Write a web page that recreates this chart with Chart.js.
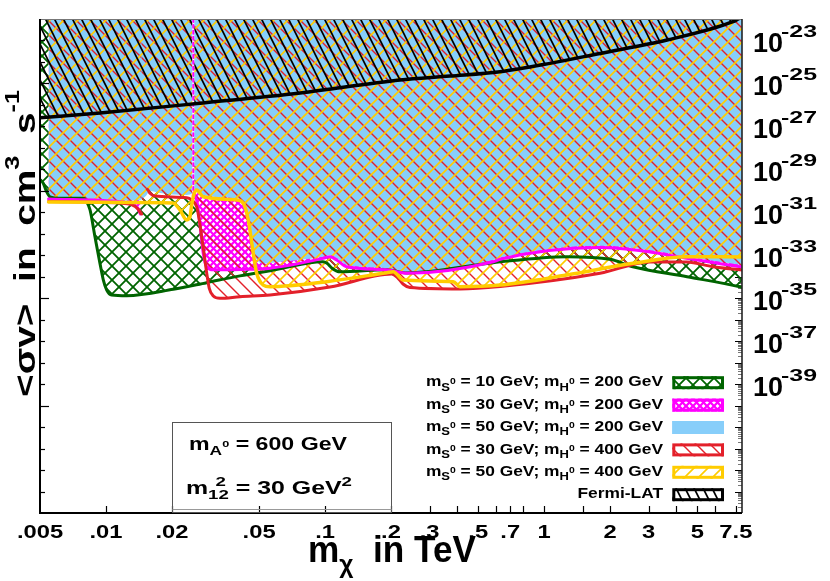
<!DOCTYPE html>
<html><head><meta charset="utf-8">
<script src="https://cdn.jsdelivr.net/npm/chart.js@4.4.0/dist/chart.umd.min.js"></script>
<style>html,body{margin:0;padding:0;background:#fff;}canvas{display:block;}</style>
</head><body>
<canvas id="c" width="830" height="581"></canvas>
<script>
// ---------------- data ----------------
const X_MIN = 0.005, X_MAX = 8, Y_MIN = 1e-45, Y_MAX = 1e-22;

const fermiX = [0.005, 0.0094, 0.0269, 0.077, 0.22, 0.372, 0.629, 1.063, 1.8, 3.64, 7.28, 7.7];
const fermiY = [2.5e-27, 4.2e-27, 1.2e-26, 3.6e-26, 1.45e-25, 2.2e-25, 3.5e-25, 8.6e-25, 2.5e-24, 1.05e-23, 7.5e-23, 1e-22];

const greenX = [0.00503, 0.00518, 0.00536, 0.00555, 0.00617, 0.00788, 0.00817, 0.00846, 0.00891, 0.00939, 0.00973, 0.01008, 0.01062, 0.01244, 0.0203, 0.0288, 0.0409, 0.0561, 0.0979, 0.1021, 0.1076, 0.117, 0.1917, 0.2366, 0.584, 1.27, 2.0, 2.54, 4.49, 7.83, 8.0];
const greenY = [3.2e-30, 2.2e-30, 9.1e-31, 5.3e-31, 4.5e-31, 4.5e-31, 3.1e-31, 1.3e-31, 7.3e-33, 4.2e-34, 7.0e-35, 2.4e-35, 1.4e-35, 1.3e-35, 2.6e-35, 5.3e-35, 1.1e-34, 1.9e-34, 5.0e-34, 4.2e-34, 2.5e-34, 1.7e-34, 2.1e-34, 1.5e-34, 4.5e-34, 8.6e-34, 6.5e-34, 2.9e-34, 1.0e-34, 3.4e-35, 3.2e-35];

const magentaX = [0.00547, 0.0116, 0.01288, 0.01381, 0.01437, null, 0.02504, 0.02595, 0.02687, 0.02781, 0.02884, 0.0309, 0.0409, 0.0561, 0.0982, 0.1053, 0.113, 0.1256, 0.1911, 0.2359, 0.586, 0.629, 1.8, 2.94, 4.47, 8.0];
const magentaY = [4.2e-31, 3.1e-31, 2.6e-31, 1.8e-31, 8.3e-32, null, 6.4e-31, 3.7e-31, 2.6e-32, 1.2e-33, 2.9e-34, 2.1e-34, 2.2e-34, 2.5e-34, 7.2e-34, 8.6e-34, 6.0e-34, 2.9e-34, 2.1e-34, 1.45e-34, 5.0e-34, 6.5e-34, 2.3e-33, 1.5e-33, 7.2e-34, 2.8e-34];
const magentaEdgeX = [0.02504, 0.02504];
const magentaEdgeY = [1e-22, 6.4e-31];

const blueX = [0.00547, 0.0116, 0.0143, 0.0152, 0.0159, 0.0176, 0.0234, 0.025, 0.026, 0.0277, 0.0396, 0.0422, 0.0445, 0.0469, 0.0489, 0.0532, 0.0561, 0.0979, 0.1053, 0.1134, 0.126, 0.1917, 0.2366, 0.584, 0.629, 1.8, 2.95, 4.49, 8.0];
const blueY = [3.7e-31, 3.5e-31, 3.7e-31, 5.7e-31, 9.8e-31, 7.9e-31, 6.4e-31, 7.9e-31, 1.15e-30, 6.4e-31, 4.4e-31, 3.0e-31, 4.9e-32, 1.8e-33, 6.0e-34, 4.1e-34, 4.4e-34, 8.6e-34, 1.03e-33, 7.2e-34, 3.5e-34, 2.5e-34, 1.7e-34, 6.0e-34, 7.7e-34, 2.8e-33, 1.8e-33, 8.6e-34, 3.5e-34];

const redX = [0.00547, 0.0116, 0.01315, 0.014, 0.01456, null, 0.01544, 0.01588, 0.01674, 0.02336, 0.02462, 0.02595, 0.02667, 0.02735, 0.02803, 0.02884, 0.02962, 0.0309, 0.03315, 0.0409, 0.0561, 0.1053, 0.2014, 0.213, 0.2269, 0.2442, 0.413, 0.629, 1.8, 3.04, 4.47, 5.9, 8.0];
const redY = [3.2e-31, 2.7e-31, 2.2e-31, 1.43e-31, 8.3e-32, null, 1.18e-30, 7.7e-31, 5.7e-31, 4.8e-31, 3.7e-31, 1.82e-31, 4.4e-32, 7.3e-33, 1.23e-33, 1.45e-34, 2.9e-35, 1.27e-35, 9.9e-36, 1.18e-35, 1.41e-35, 3.3e-35, 1.34e-34, 9.7e-35, 4.6e-35, 3.15e-35, 2.7e-35, 3.5e-35, 1.45e-34, 4.85e-34, 4.85e-34, 2.93e-34, 2.06e-34];

const yellowX = [0.00547, 0.02023, 0.02178, 0.02336, 0.02418, 0.02462, 0.02522, 0.02595, 0.02781, 0.03951, 0.04234, 0.04462, 0.04703, 0.04875, 0.05224, 0.0561, 0.1017, 0.1911, 0.2048, 0.2276, 0.3848, 0.413, 0.629, 1.267, 2.552, 4.473, 8.0];
const yellowY = [3.0e-31, 2.7e-31, 1.28e-31, 4.4e-32, 6.2e-32, 2.19e-31, 7.1e-31, 1.09e-30, 5.3e-31, 3.74e-31, 2.62e-31, 4.4e-32, 1.23e-33, 1.45e-34, 4.1e-35, 3.44e-35, 5.9e-35, 1.54e-34, 1.71e-34, 7.0e-35, 5.9e-35, 3.44e-35, 4.1e-35, 1.2e-34, 4.2e-34, 8.6e-34, 8.3e-34];

const xTickLabels = ['.005', '.01', '.02', '.05', '.1', '.2', '.3', '.5', '.7', '1', '2', '3', '5', '7.5'];
const xMinorTicks = [0.4, 0.6, 0.8, 1.5, 4, 6];
const yLabelExponents = [-23, -25, -27, -29, -31, -33, -35, -37, -39];

const legendMS = [10, 30, 50, 30, 50];
const legendMH = [200, 200, 200, 400, 400];
const legendFermi = 'Fermi-LAT';
const massA0 = 600;
const m12sq = 30;

// ---------------- patterns ----------------
function makePattern(w, h, painter, bg) {
  const c = document.createElement('canvas');
  c.width = w; c.height = h;
  const g = c.getContext('2d');
  if (bg) { g.fillStyle = bg; g.fillRect(0, 0, w, h); }
  painter(g, w, h);
  return g.createPattern(c, 'repeat');
}
function hatch(g, w, h, dir, color, lw) {
  g.strokeStyle = color; g.lineWidth = lw;
  g.beginPath();
  for (let k = -1; k <= 1; k++) {
    if (dir === 'back') { g.moveTo(k * w - w, -h); g.lineTo(k * w + 2 * w, 2 * h); }
    else { g.moveTo(k * w - w, 2 * h); g.lineTo(k * w + 2 * w, -h); }
  }
  g.stroke();
}
const C_GREEN = '#006400', C_MAG = '#ff00ff', C_BLUE = '#87cefa', C_RED = '#e3202a', C_YEL = '#ffcc00';
const patGreen = makePattern(14, 14, (g, w, h) => { hatch(g, w, h, 'back', C_GREEN, 1.8); hatch(g, w, h, 'fwd', C_GREEN, 1.8); });
const patMag = makePattern(7, 7, (g, w, h) => { hatch(g, w, h, 'back', C_MAG, 2.2); hatch(g, w, h, 'fwd', C_MAG, 2.2); }, '#ffffff');
const patRed = makePattern(14, 14, (g, w, h) => hatch(g, w, h, 'back', C_RED, 1.4));
const patYel = makePattern(14, 14, (g, w, h) => hatch(g, w, h, 'fwd', C_YEL, 1.6));
const patBlack = makePattern(9, 18, (g, w, h) => hatch(g, w, h, 'back', '#000', 1.7));

const pts = (xs, ys) => xs.map((x, i) => ({ x: x, y: ys[i] }));

// ---------------- text helpers ----------------
const FONT = "'Liberation Sans', Arial, Helvetica, sans-serif";
function layoutRich(ctx, segs, base) {
  let x = 0, prevStart = 0;
  const out = [];
  for (const s of segs) {
    ctx.font = 'bold ' + (base * (s.s || 1)) + 'px ' + FONT;
    const w = ctx.measureText(s.t).width;
    let start;
    if (s.stack) { start = prevStart + (s.off || 0) * base; x = Math.max(x, start + w); }
    else { start = x; prevStart = x; x += w; }
    out.push({ s: s, x: start });
  }
  return { out: out, width: x };
}
function drawRich(ctx, segs, base, o) {
  const L = layoutRich(ctx, segs, base);
  const sx = o.width ? o.width / L.width : (o.sx || 1);
  ctx.save();
  ctx.translate(o.x, o.y);
  if (o.rotate) ctx.rotate(o.rotate);
  ctx.scale(sx, 1);
  ctx.fillStyle = o.color || '#000';
  ctx.textAlign = 'left'; ctx.textBaseline = 'alphabetic';
  const off = o.align === 'right' ? -L.width : o.align === 'center' ? -L.width / 2 : 0;
  for (const it of L.out) {
    ctx.font = 'bold ' + (base * (it.s.s || 1)) + 'px ' + FONT;
    ctx.fillText(it.s.t, off + it.x, (it.s.dy || 0) * base);
  }
  ctx.restore();
}

// ---------------- decoration plugin ----------------
const decor = {
  id: 'decor',
  beforeDraw(chart) {
    const { ctx, chartArea: a, scales: { y } } = chart;
    ctx.save();
    ctx.fillStyle = '#fff'; ctx.fillRect(0, 0, chart.width, chart.height);
    for (let e = -45; e <= -23; e++) {
      for (let m = 1; m <= 9; m++) {
        const v = m * Math.pow(10, e);
        if (v > Y_MAX * 1.0001) continue;
        const py = Math.round(y.getPixelForValue(v)) + 0.5;
        ctx.strokeStyle = m === 1 ? '#000' : '#777';
        ctx.lineWidth = 1;
        ctx.beginPath(); ctx.moveTo(a.right, py); ctx.lineTo(a.right - (m === 1 ? 7 : 4), py); ctx.stroke();
      }
    }
    ctx.restore();
  },
  afterDraw(chart) {
    const { ctx, chartArea: a, scales: { x, y } } = chart;
    ctx.save();
    ctx.strokeStyle = '#777'; ctx.lineWidth = 1;
    ctx.beginPath(); ctx.moveTo(a.left, a.top + 0.5); ctx.lineTo(a.right, a.top + 0.5); ctx.stroke();
    ctx.strokeStyle = '#222'; ctx.lineWidth = 1.6;
    ctx.beginPath(); ctx.moveTo(a.right, a.top); ctx.lineTo(a.right, a.bottom); ctx.stroke();
    ctx.strokeStyle = '#000'; ctx.lineWidth = 2;
    ctx.beginPath(); ctx.moveTo(a.left, a.top); ctx.lineTo(a.left, a.bottom); ctx.lineTo(a.right, a.bottom); ctx.stroke();
    ctx.lineWidth = 1.2;
    for (let e = -44; e <= -23; e++) {
      const py = Math.round(y.getPixelForValue(Math.pow(10, e))) + 0.5;
      const len = e % 5 === 0 ? 9 : 5;
      ctx.beginPath(); ctx.moveTo(a.left, py); ctx.lineTo(a.left + len, py); ctx.stroke();
    }
    const tickVals = xTickLabels.map(Number).concat(xMinorTicks);
    for (const v of tickVals) {
      if (v <= X_MIN) continue;
      const px = Math.round(x.getPixelForValue(v)) + 0.5;
      ctx.beginPath(); ctx.moveTo(px, a.bottom); ctx.lineTo(px, a.bottom - 7); ctx.stroke();
    }
    // annotation box
    ctx.strokeStyle = '#555'; ctx.lineWidth = 1;
    ctx.strokeRect(172.5, 422.5, 219, 90);
    ctx.strokeStyle = '#999';
    ctx.beginPath(); ctx.moveTo(172.5, 509.5); ctx.lineTo(391.5, 509.5); ctx.stroke();
    drawRich(ctx, [{ t: 'm' }, { t: 'A', s: 0.75, dy: 0.3 }, { t: '0', s: 0.55, dy: -0.18 }, { t: ' = ' + massA0 + ' GeV' }], 18, { x: 189, y: 450, width: 158 });
    drawRich(ctx, [{ t: 'm' }, { t: '12', s: 0.75, dy: 0.32 }, { t: '2', s: 0.75, dy: -0.42, stack: true, off: 0.3 }, { t: ' = ' + m12sq + ' GeV' }, { t: '2', s: 0.75, dy: -0.42 }], 18, { x: 186, y: 493.5, width: 166 });
    // x tick labels
    for (const lab of xTickLabels) {
      const px = x.getPixelForValue(Number(lab));
      drawRich(ctx, [{ t: lab }], 19, { x: px, y: 538, align: 'center', sx: 1.25 });
    }
    // right y labels
    for (const e of yLabelExponents) {
      const py = y.getPixelForValue(Math.pow(10, e));
      drawRich(ctx, [{ t: '10' }], 28, { x: 753, y: py + 12, width: 30 });
      drawRich(ctx, [{ t: String(e) }], 17, { x: 781, y: py - 3.5, width: 36 });
    }
    // axis titles
    drawRich(ctx, [{ t: 'm' }, { t: 'χ', s: 0.7, dy: 0.3 }, { t: '  in TeV' }], 37, { x: 308, y: 562, width: 168 });
    drawRich(ctx, [{ t: '<σv>  in  cm' }, { t: '3', s: 0.65, dy: -0.55 }, { t: '  s' }, { t: '-1', s: 0.65, dy: -0.55 }], 30, { x: 35, y: 397, rotate: -Math.PI / 2, width: 307 });
    // legend
    const rows = legendMS.map((ms, i) => [
      { t: 'm' }, { t: 'S', s: 0.75, dy: 0.3 }, { t: '0', s: 0.6, dy: -0.2 },
      { t: ' = ' + ms + ' GeV; m' }, { t: 'H', s: 0.75, dy: 0.3 }, { t: '0', s: 0.6, dy: -0.2 },
      { t: ' = ' + legendMH[i] + ' GeV' }
    ]);
    rows.push([{ t: legendFermi }]);
    const swatches = [
      { fill: patGreen, stroke: C_GREEN },
      { fill: patMag, stroke: C_MAG },
      { fill: C_BLUE, stroke: C_BLUE },
      { fill: patRed, stroke: C_RED },
      { fill: patYel, stroke: C_YEL },
      { fill: patBlack, stroke: '#000' }
    ];
    rows.forEach((segs, i) => {
      const cy = 382.7 + i * 22.4;
      drawRich(ctx, segs, 14, { x: 663, y: cy + 3.6, align: 'right', sx: 1.24 });
      const sw = swatches[i];
      ctx.fillStyle = '#fff'; ctx.fillRect(672.3, cy - 6.5, 51.7, 13);
      ctx.fillStyle = sw.fill; ctx.fillRect(672.3, cy - 6.5, 51.7, 13);
      ctx.strokeStyle = sw.stroke; ctx.lineWidth = 3;
      ctx.strokeRect(673.8, cy - 5, 48.7, 10);
    });
    ctx.restore();
  }
};

// hide the stroke on the pieces of a line that touch a gap in the data
const hideBridge = c => ((c.p0 && c.p0.skip) || (c.p1 && c.p1.skip) ? 'rgba(0,0,0,0)' : undefined);

// ---------------- chart ----------------
const ctx = document.getElementById('c').getContext('2d');
new Chart(ctx, {
  type: 'line',
  data: {
    datasets: [
      { label: 'mS0 = 10 GeV; mH0 = 200 GeV', data: pts(greenX, greenY), borderColor: C_GREEN, borderWidth: 3, backgroundColor: patGreen, fill: 'end', order: 6 },
      { label: 'mS0 = 30 GeV; mH0 = 200 GeV', data: pts(magentaX, magentaY), borderColor: C_MAG, borderWidth: 3, backgroundColor: patMag, fill: 'end', order: 5 },
      { label: 'edge-white', data: pts(magentaEdgeX, magentaEdgeY), borderColor: '#ffffff', borderWidth: 2, fill: false, order: 4.8 },
      { label: 'edge-magenta', data: pts(magentaEdgeX, magentaEdgeY), borderColor: C_MAG, borderWidth: 2, borderDash: [3, 3], fill: false, order: 4.7 },
      { label: 'mS0 = 50 GeV; mH0 = 200 GeV', data: pts(blueX, blueY), borderColor: C_BLUE, borderWidth: 0, backgroundColor: C_BLUE, fill: 'end', order: 4 },
      { label: 'mS0 = 30 GeV; mH0 = 400 GeV', data: pts(redX, redY), borderColor: C_RED, borderWidth: 3, backgroundColor: patRed, fill: 'end', order: 3, spanGaps: true, segment: { borderColor: hideBridge } },
      { label: 'mS0 = 50 GeV; mH0 = 400 GeV', data: pts(yellowX, yellowY), borderColor: C_YEL, borderWidth: 3.5, backgroundColor: patYel, fill: 'end', order: 2 },
      { label: 'Fermi-LAT', data: pts(fermiX, fermiY), borderColor: '#000', borderWidth: 3.5, backgroundColor: patBlack, fill: 'end', order: 1 }
    ]
  },
  options: {
    responsive: false,
    animation: false,
    devicePixelRatio: 1,
    layout: { padding: { left: 40, right: 88, top: 19, bottom: 68 } },
    scales: {
      x: { type: 'logarithmic', min: X_MIN, max: X_MAX, display: false },
      y: { type: 'logarithmic', min: Y_MIN, max: Y_MAX, display: false }
    },
    elements: {
      point: { radius: 0, hoverRadius: 0 },
      line: { cubicInterpolationMode: 'monotone', borderCapStyle: 'round', borderJoinStyle: 'round' }
    },
    plugins: {
      legend: { display: false },
      tooltip: { enabled: false },
      filler: { drawTime: 'beforeDatasetsDraw', propagate: false }
    }
  },
  plugins: [decor]
});
</script>
</body></html>
